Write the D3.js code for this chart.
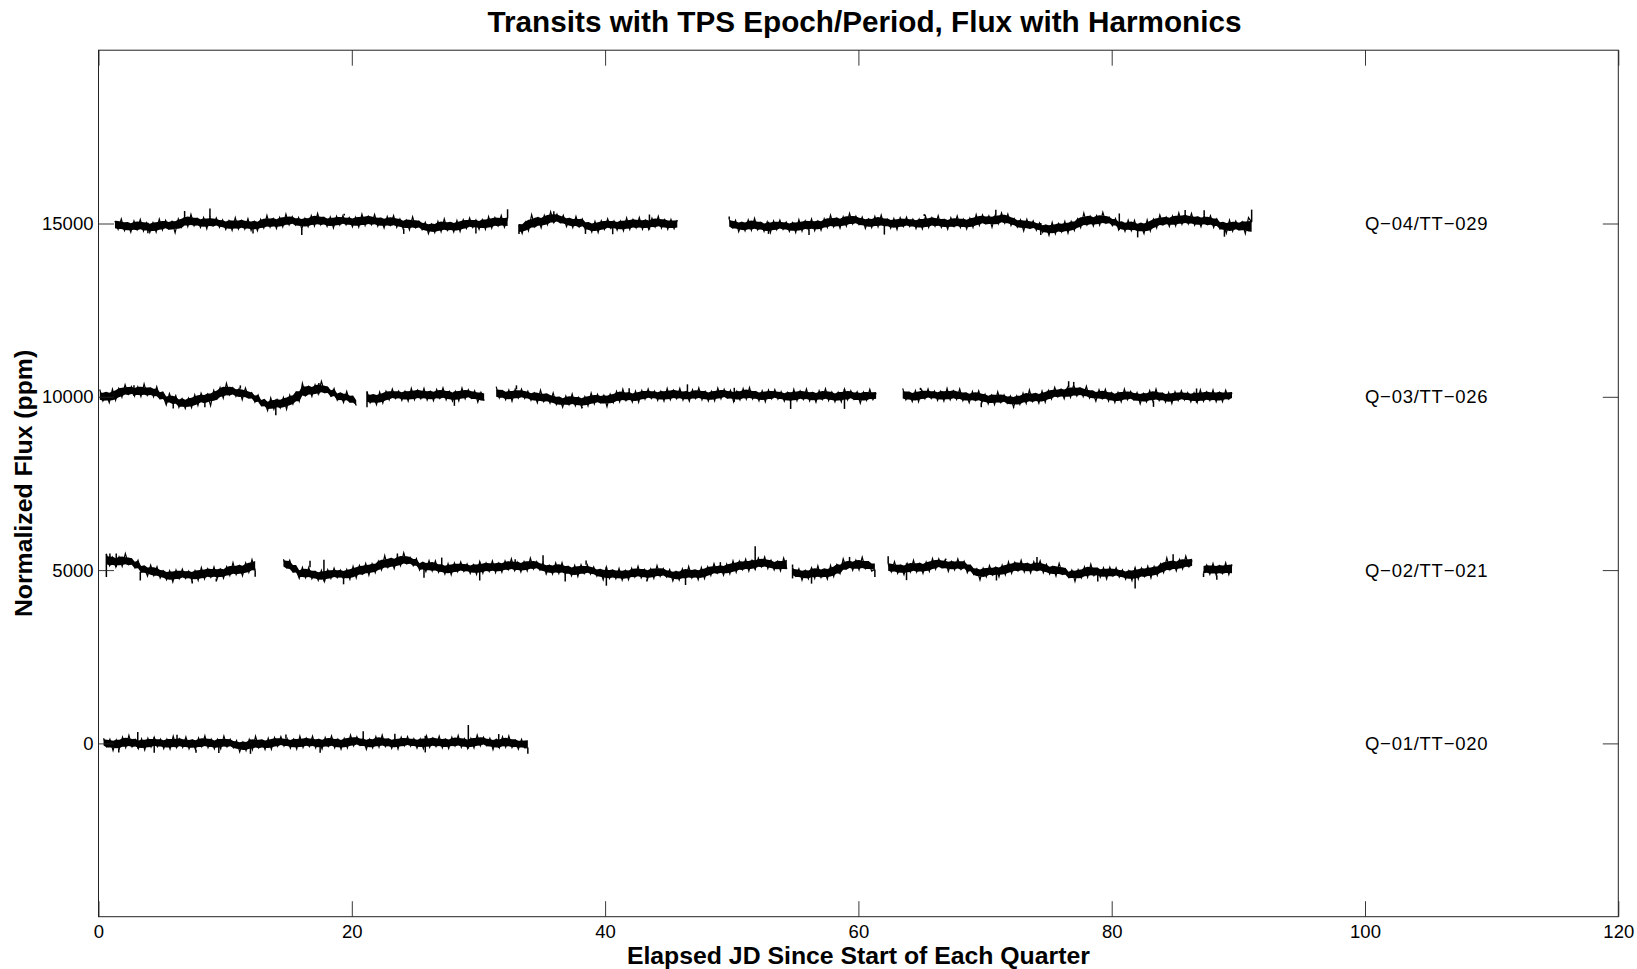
<!DOCTYPE html>
<html>
<head>
<meta charset="utf-8">
<script src="https://cdn.jsdelivr.net/npm/d3@7"></script>
<style>
  html, body { margin: 0; padding: 0; background: #fff; }
  svg { display: block; }
  text { font-family: "Liberation Sans", Arial, Helvetica, sans-serif; fill: #000; }
</style>
</head>
<body>
<svg id="chart" width="1637" height="969"></svg>
<script>
// Stacked light curves: each quarter is shifted by a fixed flux offset.
const quarterLabels = ["Q\u221201/TT\u2212020", "Q\u221202/TT\u2212021", "Q\u221203/TT\u2212026", "Q\u221204/TT\u2212029"];
const quarterOffsets = [0, 5000, 10000, 15000];
const xTicks = [0, 20, 40, 60, 80, 100, 120];
const yTicks = [0, 5000, 10000, 15000];
const sampleStep = 0.25; // days between flux samples
const labelDay = 100;    // day at which the quarter labels start

// Q-01: segment start days, flux samples (ppm about the quarter level), isolated spikes [day, ppm]
const q1Starts = [0.4];
const q1Flux = [
  [150,-90,120,-210, 100,-140,180,-120, 230,-100,100,-150, 130,-190,150,-100, 180,-90,120,-150,
   120,-160,210,-120, 125,-115,185,-155, 85,-175,155,-95, 220,-120,120,-160, 115,-155,215,-95,
   115,-125,85,-245, 35,-205,115,-185, 205,-125,75,-175, 150,-170,170,-80, 195,-75,135,-135,
   120,-160,210,-120, 150,-90,210,-130, 100,-160,170,-80, 215,-125,115,-165, 140,-130,240,-70,
   190,-50,160,-170, 115,-125,195,-105, 240,-90,110,-140, 160,-160,180,-70, 195,-75,135,-135,
   130,-150,220,-110, 150,-90,210,-130, 110,-150,180,-70, 230,-110,130,-150, 140,-130,240,-70,
   180,-60,150,-180, 110,-130,190,-110, 215,-115,85,-165, 120,-130,-120]
];
const q1Spikes = [[1.6, -260], [3.1, 330], [4.4, -270], [6.2, 250], [7.7, -270], [9.5, -280],
  [12.0, -300], [14.8, 260], [17.5, -270], [20.9, 350], [23.4, 280], [25.8, -260], [29.2, 530],
  [31.6, 270], [33.9, -300]];

// Q-02
const q2Starts = [0.62, 14.6, 54.8, 62.35, 87.25];
const q2Flux = [
  [470,130,370,90, 380,110,480,170, 315,75,285,-45, 65,-175,145,-155, 100,-230,-30,-280,
   -20,-340,0,-250, 30,-240,-30,-300, -15,-295,75,-255, 35,-205,95,-245, 25,-235,95,-155,
   215,-125,115,-165, 205,-65,305,-5],
  [315,75,285,-45, 0,-240,80,-220, 80,-250,-50,-300, -10,-330,10,-240, 55,-215,-5,-275,
   15,-265,105,-225, 135,-105,195,-145, 185,-75,255,5, 420,80,320,40, 400,130,500,190,
   365,125,335,5, 195,-45,275,-25, 265,-65,135,-115, 185,-135,205,-45, 235,-35,175,-95,
   155,-125,245,-85, 205,-35,265,-75, 195,-65,265,15, 325,-15,225,-55, 245,-25,345,35,
   245,5,215,-115, 125,-115,205,-95, 215,-115,85,-165, 135,-185,155,-95, 155,-115,95,-175,
   0,-280,90,-240, -10,-250,50,-290, -15,-275,55,-195, 115,-225,15,-265, 35,-235,135,-175,
   45,-195,15,-315, -45,-285,35,-265, 105,-225,-25,-275, 75,-245,95,-155, 185,-85,125,-145,
   175,-105,265,-65, 255,15,315,-25, 280,20,350,100, 385,45,285,5, 245,-25,345,35],
  [70,-170,40,-290, -15,-255,65,-235, 120,-210,-10,-260, 135,-185,155,-95, 325,55,265,-5,
   285,5,375,45, 220,-30,20],
  [185,-55,245,-95, 125,-135,195,-55, 285,-55,185,-95, 235,-35,335,25, 325,85,295,-35,
   245,5,325,25, 255,-75,125,-125, 35,-285,55,-195, 135,-135,75,-195, 145,-135,235,-95,
   225,-15,285,-55, 175,-85,245,-5, 265,-75,165,-115, 95,-175,195,-115, 35,-205,5,-325,
   15,-225,95,-205, 175,-155,45,-205, 65,-255,85,-165, 65,-205,5,-265, -20,-300,70,-260,
   55,-185,115,-225, 105,-155,175,-75, 355,15,255,-25, 305,35,405,95, 280],
  [-90,150,-120,190,-150,120,-100,210,-130,160]
];
const q2Spikes = [[0.62, -200], [0.9, 480], [1.4, 480], [3.3, -300], [7.4, -390], [9.3, -330],
  [12.37, -190], [16.7, 270], [17.8, 300], [19.35, -410], [23.6, 480], [25.7, -220], [27.1, 360],
  [30.1, -300], [32.9, 310], [35.1, 430], [36.85, -330], [38.5, 280], [40.1, -450], [43.3, -330],
  [46.35, -430], [49.1, 230], [51.85, 690], [54.8, 160], [54.8, -240], [56.3, -390], [59.3, 380],
  [61.3, -200], [62.35, 400], [63.8, -290], [66.9, 330], [70.9, -300], [74.1, 380], [78.9, -330],
  [81.85, -530], [84.85, 460], [87.25, -200], [88.3, -280]];

// Q-03
const q3Starts = [0.1, 21.2, 31.4, 63.5];
const q3Flux = [
  [210,-120,80,-170, 220,-100,240,-10, 350,80,290,20, 285,5,375,45, 235,-5,295,-45,
   25,-235,95,-155, 40,-300,-60,-340, -40,-310,60,-250, 105,-135,75,-255, 185,-55,265,-35,
   390,60,260,10, 235,-85,255,5, 115,-155,55,-215, -120,-400,-30,-360, -80,-320,-20,-360,
   50,-210,120,-130, 390,50,290,10, 345,75,445,135, 265,25,235,-95, 75,-165,155,-145,
   -35,-255],
  [155,-175,25,-225, 140,-180,160,-90, 225,-45,165,-105, 155,-125,245,-85, 185,-55,245,-95,
   145,-115,215,-35, 255,-85,155,-125, 155,-115,255,-55, 205,-35,175,-155, 130,-110],
  [295,-35,165,-85, 195,-125,215,-35, 225,-45,165,-105, 105,-175,195,-135, 55,-185,115,-225,
   -45,-305,25,-225, 80,-260,-20,-300, 5,-265,105,-205, 75,-165,45,-285, 75,-165,155,-145,
   225,-105,95,-155, 165,-155,185,-65, 225,-45,165,-105, 155,-125,245,-85, 185,-55,245,-95,
   135,-125,205,-45, 255,-85,155,-125, 155,-115,255,-55, 215,-25,185,-145, 155,-85,235,-65,
   265,-65,135,-115, 175,-145,195,-55, 205,-65,145,-125, 125,-155,215,-115, 165,-75,225,-115,
   105,-155,175,-75, 235,-105,135,-145, 125,-145,225,-85, 175,-65,145,-185, 135,-105,215,-85,
   100],
  [245,-85,115,-135, 175,-145,195,-55, 225,-45,165,-105, 155,-125,245,-85, 165,-75,225,-115,
   85,-175,155,-95, 175,-165,75,-205, 45,-225,145,-165, 55,-185,25,-305, 25,-215,105,-195,
   195,-135,65,-185, 165,-155,185,-65, 275,5,215,-55, 265,-15,355,25, 245,5,305,-35,
   135,-125,205,-45, 215,-125,115,-165, 125,-145,225,-85, 155,-85,125,-205, 95,-145,175,-125,
   225,-105,95,-155, 125,-195,145,-105, 180,-90,120,-150, 110,-170,200,-130, 135,-105,195,-145,
   120,-140,190,-60, 120]
];
const q3Spikes = [[2.8, 330], [5.9, -340], [8.4, -300], [11.2, 330], [14.0, -530], [17.4, 400],
  [21.2, -300], [24.6, 250], [28.1, -260], [33.0, 330], [38.2, -330], [41.9, 250], [46.5, 360],
  [50.2, 260], [54.65, -350], [58.9, -350], [64.9, 260], [69.7, -300], [72.3, -310], [76.6, 450],
  [77.0, 430], [83.3, -290], [86.7, 240]];

// Q-04
const q4Starts = [1.3, 33.2, 49.8];
const q4Flux = [
  [70,-170,130,-210, 5,-255,75,-175, 120,-220,20,-260, 25,-245,125,-185, 90,-150,60,-270,
   135,-105,215,-85, 265,-65,135,-115, 170,-150,190,-60, 160,-110,100,-170, 80,-200,170,-160,
   80,-160,140,-200, 50,-210,120,-130, 235,-105,135,-145, 170,-100,270,-40, 200,-40,170,-160,
   150,-90,230,-70, 295,-35,165,-85, 190,-130,210,-40, 230,-40,170,-100, 180,-100,270,-60,
   205,-35,265,-75, 130,-130,200,-50, 230,-110,130,-150, 90,-180,190,-120, 65,-175,35,-295,
   -20,-260,60,-240, 135,-195,5,-245, 90,-230,110,-140, 160,-110,100,-170, 110,-170,200,-130,
   170,-70,230,-110, 150],
  [-30,-290,40,-210, 255,-85,155,-125, 235,-35,335,25, 270,30,240,-90, 125,-115,205,-95,
   130,-200,0,-250, 60,-260,80,-170, 135,-135,75,-195, 70,-210,160,-170, 115,-125,175,-165,
   85,-175,155,-95, 210,-130,110,-170, 120,-150,100],
  [125,-115,95,-235, 25,-215,105,-195, 150,-180,20,-230, 50,-270,70,-180, 100,-170,40,-230,
   20,-260,110,-220, 75,-165,135,-205, 65,-195,135,-115, 245,-95,145,-135, 195,-75,295,-15,
   215,-25,185,-145, 125,-115,205,-95, 245,-85,115,-135, 145,-175,165,-85, 185,-85,125,-145,
   125,-155,215,-115, 165,-75,225,-115, 95,-165,165,-85, 220,-120,120,-160, 155,-115,255,-55,
   250,10,220,-110, 230,-10,310,10, 275,-55,145,-105, 105,-215,125,-125, 75,-195,15,-255,
   -60,-340,30,-300, 0,-240,60,-280, 60,-200,130,-120, 305,-35,205,-75, 225,-45,325,15,
   175,-65,145,-185, 15,-225,95,-205, 90,-240,-40,-290, 105,-215,125,-125, 245,-25,185,-85,
   215,-65,305,-25, 230,-10,290,-50, 165,-95,235,-15, 225,-115,125,-155, 0,-280,100,-220,
   70,-170,40,-290, 170,40]
];
const q4Spikes = [[3.9, -280], [6.8, 360], [8.8, 430], [12.2, -290], [16.05, -330], [19.4, 280],
  [24.1, -300], [29.8, -290], [32.3, 410], [33.2, -300], [35.95, 350], [38.45, -300], [40.6, -310],
  [43.5, 260], [49.8, 200], [52.9, -300], [56.1, -330], [62.05, -320], [65.2, 270], [70.85, 400],
  [74.4, -330], [80.6, 290], [82.05, -400], [85.8, 390], [87.3, 380], [88.9, -380], [91.05, 400]];

const quarterStarts = [q1Starts, q2Starts, q3Starts, q4Starts];
const quarterFlux = [q1Flux, q2Flux, q3Flux, q4Flux];
const quarterSpikes = [q1Spikes, q2Spikes, q3Spikes, q4Spikes];

// ---- layout ----
const svg = d3.select("#chart");
const plot = { left: 98.5, right: 1618.3, top: 50.2, bottom: 916.7 };
const x = d3.scaleLinear().domain([0, 120]).range([plot.left, plot.right]);
const y = d3.scaleLinear().domain([-5000, 20000]).range([plot.bottom, plot.top]);
const tickLen = 15.5;

svg.append("rect").attr("width", 1637).attr("height", 969).attr("fill", "#fff");

// ---- light curves ----
// A filled core (local spread of the samples) with the raw sample trace on top,
// so individual samples stick out of the core as thin hairs.
const curves = svg.append("g");
const line = d3.line().x(d => x(d.t)).y(d => y(d.f));
const band = d3.area().x(d => x(d.t)).y0(d => y(d.lo)).y1(d => y(d.hi));
const coreShare = 0.8;

quarterFlux.forEach((segments, q) => {
  const off = quarterOffsets[q];
  const starts = quarterStarts[q];
  segments.forEach((vals, s) => {
    const pts = vals.map((v, i) => {
      const win = vals.slice(Math.max(0, i - 2), Math.min(vals.length, i + 3));
      const c = d3.mean(win);
      const up = win.filter(w => w >= c), dn = win.filter(w => w < c);
      const hi = up.length ? d3.mean(up) : c, lo = dn.length ? d3.mean(dn) : c;
      return { t: starts[s] + i * sampleStep, f: v + off,
               lo: c + coreShare * (lo - c) + off, hi: c + coreShare * (hi - c) + off };
    });
    curves.append("path").attr("d", band(pts)).attr("fill", "#000");
    curves.append("path").attr("d", line(pts))
      .attr("fill", "none").attr("stroke", "#000").attr("stroke-width", 1.2)
      .attr("stroke-linejoin", "miter").attr("stroke-miterlimit", 10);
  });
  // isolated excursions drawn from the nearest sample
  quarterSpikes[q].forEach(([t, v]) => {
    let s = 0;
    starts.forEach((st, k) => { if (t >= st - 0.01) s = k; });
    const vals = segments[s];
    const idx = Math.max(0, Math.min(vals.length - 1, Math.round((t - starts[s]) / sampleStep)));
    curves.append("line")
      .attr("x1", x(t)).attr("x2", x(t))
      .attr("y1", y(vals[idx] + off)).attr("y2", y(v + off))
      .attr("stroke", "#000").attr("stroke-width", 1.5);
  });
});

// ---- axes (ticks inward, box style) ----
const axisColor = "#222";
function styleAxis(g) {
  g.select(".domain").remove();
  g.selectAll(".tick line").attr("stroke", axisColor).attr("stroke-width", 0.9);
  g.selectAll(".tick text")
    .style("font-family", "'Liberation Sans', Arial, Helvetica, sans-serif")
    .style("font-size", "18.5px").attr("fill", "#000");
}

svg.append("g").attr("transform", `translate(0,${plot.bottom})`)
  .call(d3.axisBottom(x).tickValues(xTicks).tickFormat(d3.format("d"))
    .tickSizeInner(-tickLen).tickSizeOuter(0).tickPadding(8.3))
  .call(styleAxis);
svg.append("g").attr("transform", `translate(0,${plot.top})`)
  .call(d3.axisTop(x).tickValues(xTicks).tickFormat("")
    .tickSizeInner(-tickLen).tickSizeOuter(0))
  .call(styleAxis);
svg.append("g").attr("transform", `translate(${plot.left},0)`)
  .call(d3.axisLeft(y).tickValues(yTicks).tickFormat(d3.format("d"))
    .tickSizeInner(-tickLen).tickSizeOuter(0).tickPadding(5))
  .call(styleAxis);
svg.append("g").attr("transform", `translate(${plot.right},0)`)
  .call(d3.axisRight(y).tickValues(yTicks).tickFormat("")
    .tickSizeInner(-tickLen).tickSizeOuter(0))
  .call(styleAxis);

svg.append("rect")
  .attr("x", plot.left).attr("y", plot.top)
  .attr("width", plot.right - plot.left).attr("height", plot.bottom - plot.top)
  .attr("fill", "none").attr("stroke", axisColor).attr("stroke-width", 1);

// ---- quarter labels ----
svg.append("g").selectAll("text").data(quarterLabels).join("text")
  .attr("x", x(labelDay))
  .attr("y", (d, i) => y(quarterOffsets[i]))
  .attr("dy", "0.36em")
  .attr("textLength", 122.5).attr("lengthAdjust", "spacing")
  .style("font-size", "18.5px")
  .text(d => d);

// ---- titles ----
svg.append("text")
  .attr("x", 864.5).attr("y", 32)
  .attr("text-anchor", "middle")
  .style("font-size", "29.7px").style("font-weight", "bold")
  .text("Transits with TPS Epoch/Period, Flux with Harmonics");

svg.append("text")
  .attr("x", (plot.left + plot.right) / 2).attr("y", 964)
  .attr("text-anchor", "middle")
  .style("font-size", "24.8px").style("font-weight", "bold")
  .text("Elapsed JD Since Start of Each Quarter");

svg.append("text")
  .attr("transform", `translate(32,${(plot.top + plot.bottom) / 2}) rotate(-90)`)
  .attr("text-anchor", "middle")
  .style("font-size", "24.8px").style("font-weight", "bold")
  .text("Normalized Flux (ppm)");
</script>
</body>
</html>
